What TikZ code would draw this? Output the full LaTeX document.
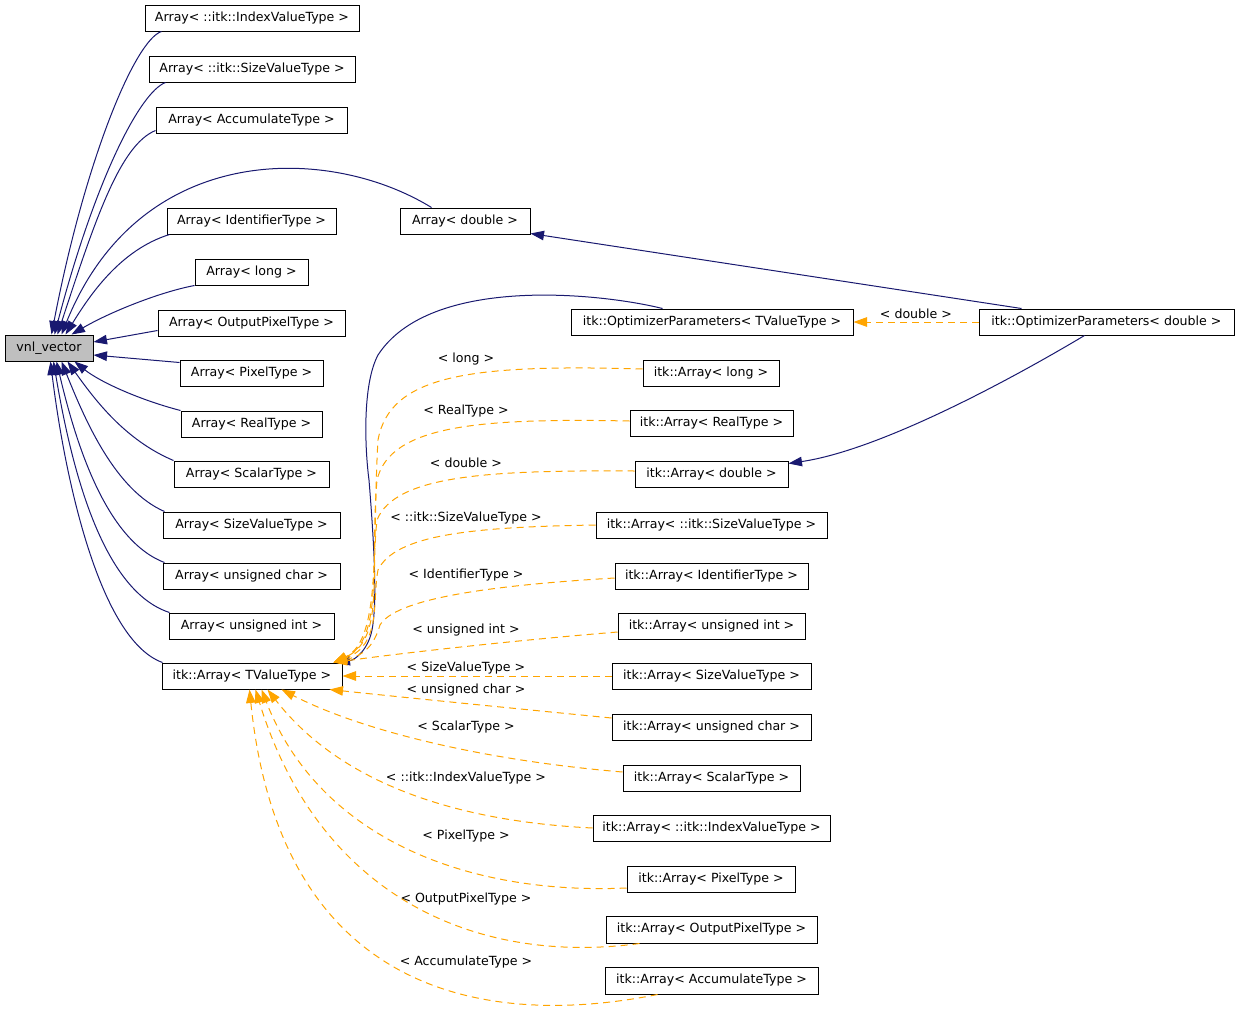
\documentclass[tikz,border=0pt]{standalone}
\usepackage{fontspec}
\setmainfont{DejaVu Sans}
\usetikzlibrary{arrows.meta}
\definecolor{navy}{RGB}{25,25,112}
\definecolor{orng}{RGB}{255,165,0}
\definecolor{vgray}{RGB}{191,191,191}
\begin{document}
\begin{tikzpicture}[x=1pt,y=-1pt,
  box/.style={draw=black, line width=1pt, inner sep=0pt, minimum height=26pt, font=\fontsize{12.6}{14}\selectfont, anchor=center},
  lbl/.style={inner sep=0pt, font=\fontsize{12.6}{14}\selectfont, anchor=center},
  inh/.style={draw=navy, line width=1pt, -{Triangle[length=13.5pt,width=9.5pt]}, fill=none},
  tpl/.style={draw=orng, line width=1pt, dash pattern=on 7pt off 5pt, -{Triangle[length=13.5pt,width=9.5pt,fill=orng]}},
]
\useasboundingbox (0,0) rectangle (1240,1015);
\fill[white] (0,0) rectangle (1240,1015);

% left column
\node[box, fill=vgray, minimum width=88] (vnl) at (49,348) {vnl\_vector};
\node[box, minimum width=214] (a1) at (252,18) {Array< ::itk::IndexValueType >};
\node[box, minimum width=206] (a2) at (252,69) {Array< ::itk::SizeValueType >};
\node[box, minimum width=191] (a3) at (251.5,120) {Array< AccumulateType >};
\node[box, minimum width=130] (ad) at (465,221) {Array< double >};
\node[box, minimum width=169] (a5) at (251.5,221) {Array< IdentifierType >};
\node[box, minimum width=113] (a6) at (251.5,272) {Array< long >};
\node[box, minimum width=187] (a7) at (251.5,323) {Array< OutputPixelType >};
\node[box, minimum width=143] (a8) at (251.5,373) {Array< PixelType >};
\node[box, minimum width=141] (a9) at (251.5,424) {Array< RealType >};
\node[box, minimum width=155] (a10) at (251.5,474) {Array< ScalarType >};
\node[box, minimum width=177] (a11) at (251.5,525) {Array< SizeValueType >};
\node[box, minimum width=177] (a12) at (251.5,576) {Array< unsigned char >};
\node[box, minimum width=165] (a13) at (251.5,626) {Array< unsigned int >};
\node[box, minimum width=180] (tv) at (252,676) {itk::Array< TValueType >};

% right side
\node[box, minimum width=282] (op1) at (712,322) {itk::OptimizerParameters< TValueType >};
\node[box, minimum width=255] (op2) at (1106.5,322) {itk::OptimizerParameters< double >};
\node[box, minimum width=136] (ia1) at (711,373) {itk::Array< long >};
\node[box, minimum width=163] (ia2) at (711.5,423) {itk::Array< RealType >};
\node[box, minimum width=153] (ia3) at (711.5,474) {itk::Array< double >};
\node[box, minimum width=231] (ia4) at (711.5,525) {itk::Array< ::itk::SizeValueType >};
\node[box, minimum width=193] (ia5) at (711.5,576) {itk::Array< IdentifierType >};
\node[box, minimum width=187] (ia6) at (711.5,626) {itk::Array< unsigned int >};
\node[box, minimum width=199] (ia7) at (711.5,676) {itk::Array< SizeValueType >};
\node[box, minimum width=199] (ia8) at (711.5,727) {itk::Array< unsigned char >};
\node[box, minimum width=177] (ia9) at (711.5,778) {itk::Array< ScalarType >};
\node[box, minimum width=237] (ia10) at (711.5,828) {itk::Array< ::itk::IndexValueType >};
\node[box, minimum width=168] (ia11) at (711,879) {itk::Array< PixelType >};
\node[box, minimum width=211, minimum height=27] (ia12) at (711.5,929.5) {itk::Array< OutputPixelType >};
\node[box, minimum width=213, minimum height=27] (ia13) at (711.5,980.5) {itk::Array< AccumulateType >};

% labels
\node[lbl] (l0) at (916,314) {< double >};
\node[lbl] (l1) at (466,359) {< long >};
\node[lbl] (l2) at (466,411) {< RealType >};
\node[lbl] (l3) at (466,463) {< double >};
\node[lbl] (l4) at (466,518) {< ::itk::SizeValueType >};
\node[lbl] (l5) at (466,575) {< IdentifierType >};
\node[lbl] (l6) at (466,630) {< unsigned int >};
\node[lbl] (l7) at (466,668) {< SizeValueType >};
\node[lbl] (l8) at (466,690) {< unsigned char >};
\node[lbl] (l9) at (466,727) {< ScalarType >};
\node[lbl] (l10) at (466,778) {< ::itk::IndexValueType >};
\node[lbl] (l11) at (466,836) {< PixelType >};
\node[lbl] (l12) at (466,899) {< OutputPixelType >};
\node[lbl] (l13) at (466,962) {< AccumulateType >};

% inheritance edges to vnl_vector
\draw[inh] ([xshift=17]a1.south west) .. controls (135,40) and (85,160) .. ([xshift=47]vnl.north west);
\draw[inh] ([xshift=17]a2.south west) .. controls (140,92) and (95,180) .. ([xshift=50]vnl.north west);
\draw[inh] ([yshift=3]a3.south west) .. controls (120,145) and (95,220) .. ([xshift=53]vnl.north west);
\draw[inh] ([xshift=32]ad.north west) .. controls (330,145) and (140,140) .. ([xshift=57]vnl.north west);
\draw[inh] ([xshift=3]a5.south west) .. controls (120,250) and (90,295) .. ([xshift=61]vnl.north west);
\draw[inh] (a6.south west) .. controls (160,292) and (110,312) .. ([xshift=67]vnl.north west);
\draw[inh] ([yshift=6]a7.south west) -- ([yshift=6]vnl.east);
\draw[inh] ([yshift=-3]a8.north west) -- ([yshift=-7]vnl.east);
\draw[inh] (a9.north west) .. controls (140,400) and (100,382) .. ([xshift=70]vnl.south west);
\draw[inh] (a10.north west) .. controls (125,440) and (95,400) .. ([xshift=63]vnl.south west);
\draw[inh] ([xshift=2]a11.north west) .. controls (115,490) and (85,420) .. ([xshift=57]vnl.south west);
\draw[inh] ([xshift=2]a12.north west) .. controls (105,540) and (75,440) .. ([xshift=52]vnl.south west);
\draw[inh] ([xshift=1]a13.north west) .. controls (100,590) and (70,460) .. ([xshift=49]vnl.south west);
\draw[inh] ([xshift=1]tv.north west) .. controls (100,640) and (65,480) .. ([xshift=46]vnl.south west);

% optimizer parameters
\draw[inh] ([xshift=43]op2.north west) -- ([yshift=1]ad.south east);
\draw[inh] ([xshift=106]op2.south west) .. controls (1010,380) and (880,450) .. ([yshift=-3]ia3.north east);
\draw[tpl] (op2.west) -- (op1.east);
\draw[inh] ([xshift=92]op1.north west) .. controls (600,293) and (430,275) .. (378,355)
  .. controls (362,385) and (365,450) .. (369,480)
  .. controls (373,530) and (378,600) .. (372,630)
  .. controls (368,650) and (355,660) .. ([xshift=-6]tv.north east);

% template instances to itk::Array< TValueType >
\draw[tpl] ([yshift=4]ia1.west) .. controls (470,364) and (390,375) .. (378,440)
  .. controls (372,540) and (382,640) .. ([xshift=-9]tv.north east);
\draw[tpl] ([yshift=2]ia2.west) .. controls (480,418) and (390,425) .. (377,480)
  .. controls (370,560) and (384,640) .. ([xshift=-9]tv.north east);
\draw[tpl] ([yshift=3]ia3.west) .. controls (490,470) and (395,475) .. (377,520)
  .. controls (370,580) and (384,640) .. ([xshift=-9]tv.north east);
\draw[tpl] (ia4.west) .. controls (470,527) and (395,535) .. (378,570)
  .. controls (372,600) and (382,645) .. ([xshift=-9]tv.north east);
\draw[tpl] ([yshift=-2]ia5.west) .. controls (480,586) and (395,600) .. (380,625)
  .. controls (374,645) and (365,655) .. ([xshift=-9]tv.north east);
\draw[tpl] ([yshift=-6]ia6.west) .. controls (520,640) and (410,652) .. ([xshift=-9]tv.north east);
\draw[tpl] (ia7.west) -- (tv.east);
\draw[tpl] ([yshift=9]ia8.west) .. controls (500,707) and (400,697) .. ([xshift=-13]tv.south east);
\draw[tpl] ([yshift=6]ia9.west) .. controls (480,760) and (360,730) .. ([xshift=120]tv.south west);
\draw[tpl] (ia10.west) .. controls (430,820) and (330,770) .. ([xshift=106]tv.south west);
\draw[tpl] ([yshift=-9]ia11.west) .. controls (470,895) and (320,840) .. ([xshift=100]tv.south west);
\draw[tpl] ([xshift=34]ia12.south west) .. controls (480,965) and (320,900) .. ([xshift=94]tv.south west);
\draw[tpl] ([xshift=53]ia13.south west) .. controls (480,1030) and (280,990) .. ([xshift=88]tv.south west);
\end{tikzpicture}
\end{document}
